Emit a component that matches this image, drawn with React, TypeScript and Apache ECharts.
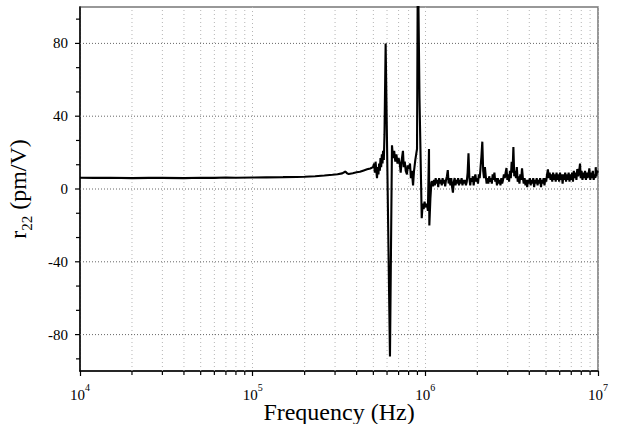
import React, { useEffect, useRef } from "react";
import * as echarts from "echarts";

// ---- data (frequency in Hz, r22 in pm/V) ----
const X_MIN = 1e4;
const X_MAX = 1e7;
const Y_MIN = -100;
const Y_MAX = 100;
const Y_STEP = 20;

const Y_TICKS = [-80, -40, 0, 40, 80];
const Y_MINOR = [-93.33, -66.67, -53.33, -26.67, -13.33, 13.33, 26.67, 53.33, 66.67, 93.33];
const X_MINOR = [
  2e4, 3e4, 4e4, 5e4, 6e4, 7e4, 8e4, 9e4,
  2e5, 3e5, 4e5, 5e5, 6e5, 7e5, 8e5, 9e5,
  2e6, 3e6, 4e6, 5e6, 6e6, 7e6, 8e6, 9e6,
];

const R22_LOW: [number, number][] = [
  [1e4, 6.2], [1.2e4, 6.1], [1.5e4, 6.2], [2e4, 6.0], [2.5e4, 6.1], [3e4, 6.1],
  [4e4, 6.0], [5e4, 6.2], [6e4, 6.1], [7e4, 6.3], [8e4, 6.2], [1e5, 6.3],
  [1.2e5, 6.4], [1.5e5, 6.5], [1.8e5, 6.6], [2.0e5, 6.7], [2.3e5, 7.0],
  [2.6e5, 7.4], [2.9e5, 7.8], [3.1e5, 8.1], [3.3e5, 8.6], [3.45e5, 9.6],
  [3.5e5, 8.8], [3.6e5, 8.2], [3.8e5, 8.7], [4.0e5, 9.2], [4.18e5, 9.5],
  [4.4e5, 10.2], [4.6e5, 10.8], [4.8e5, 11.3],
];

const R22_RES: [number, number][] = [
  [4.98e5, 12], [5.05e5, 14], [5.1e5, 9], [5.15e5, 15], [5.2e5, 10], [5.25e5, 6],
  [5.3e5, 12], [5.35e5, 8], [5.4e5, 14], [5.45e5, 10], [5.5e5, 17], [5.55e5, 12],
  [5.6e5, 19], [5.65e5, 14], [5.69e5, 21], [5.75e5, 16], [5.8e5, 30], [5.89e5, 80],
  [6.24e5, -92], [6.41e5, 24], [6.5e5, 17], [6.6e5, 21], [6.7e5, 15], [6.8e5, 19],
  [6.9e5, 14], [7.0e5, 17], [7.13e5, 13], [7.2e5, 9], [7.3e5, 16], [7.42e5, 21],
  [7.5e5, 12], [7.6e5, 15], [7.7e5, 10], [7.83e5, 8], [7.9e5, 13], [8.0e5, 11],
  [8.15e5, 14], [8.25e5, 6], [8.35e5, 10], [8.49e5, 2], [8.6e5, 10], [8.75e5, 16],
  [8.95e5, 22], [9.05e5, 130], [9.25e5, 50], [9.53e5, -16], [9.65e5, -8],
  [9.78e5, -11], [9.9e5, -7], [1.0e6, -10], [1.02e6, -8], [1.035e6, -12],
  [1.05e6, 22], [1.055e6, -20], [1.07e6, -5], [1.085e6, 4],
];

const R22_HIGH: [number, number][] = [
  [1.096e6, 4], [1.109e6, 1.5], [1.122e6, 5], [1.135e6, 2], [1.148e6, 6], [1.161e6, 3],
  [1.175e6, 5], [1.188e6, 1], [1.202e6, 6], [1.216e6, 3], [1.23e6, 5], [1.245e6, 2],
  [1.259e6, 6], [1.273e6, 3], [1.288e6, 5], [1.303e6, 1.5], [1.318e6, 5], [1.334e6, 7],
  [1.349e6, 10.4], [1.364e6, 3], [1.38e6, 6], [1.396e6, 2], [1.413e6, 6], [1.429e6, 1],
  [1.445e6, -2], [1.462e6, 4], [1.479e6, 6], [1.496e6, 2], [1.514e6, 5], [1.531e6, 3],
  [1.549e6, 6], [1.567e6, 2], [1.585e6, 5], [1.603e6, 3], [1.622e6, 6], [1.641e6, 2],
  [1.66e6, 5], [1.679e6, 3], [1.698e6, 5], [1.718e6, 2], [1.738e6, 4], [1.758e6, 9],
  [1.778e6, 19.6], [1.799e6, 6], [1.82e6, 2], [1.841e6, 6], [1.862e6, 4], [1.884e6, 7],
  [1.905e6, 2], [1.928e6, 6], [1.95e6, 8], [1.972e6, 4], [1.995e6, 6], [2.018e6, 3],
  [2.042e6, 8], [2.065e6, 6], [2.089e6, 12], [2.113e6, 18], [2.138e6, 26], [2.163e6, 10],
  [2.188e6, 6], [2.213e6, 12], [2.239e6, 7], [2.265e6, 3], [2.291e6, 6], [2.317e6, 3],
  [2.344e6, 7], [2.371e6, 4], [2.399e6, 6], [2.427e6, 3], [2.455e6, 8], [2.483e6, 5],
  [2.512e6, 9], [2.541e6, 4], [2.57e6, 6], [2.6e6, 2], [2.63e6, 6], [2.661e6, 3],
  [2.692e6, 5], [2.723e6, 2], [2.754e6, 6], [2.786e6, 3], [2.818e6, 5], [2.851e6, 8],
  [2.884e6, 6], [2.917e6, 9], [2.951e6, 11.5], [2.985e6, 5], [3.02e6, 8], [3.055e6, 4],
  [3.09e6, 10], [3.126e6, 6], [3.162e6, 15], [3.199e6, 9], [3.236e6, 23], [3.273e6, 7],
  [3.311e6, 10], [3.35e6, 6], [3.388e6, 12], [3.428e6, 4], [3.467e6, 7], [3.508e6, 3],
  [3.548e6, 8], [3.589e6, 5], [3.631e6, 11.3], [3.673e6, 6], [3.715e6, 3], [3.758e6, 6],
  [3.802e6, 2], [3.846e6, 5], [3.89e6, 1], [3.936e6, 5], [3.981e6, 3], [4.027e6, 6],
  [4.074e6, 2], [4.121e6, 5], [4.169e6, 3], [4.217e6, 6], [4.266e6, 1], [4.315e6, 5],
  [4.365e6, 3], [4.416e6, 6], [4.467e6, 2], [4.519e6, 5], [4.571e6, 3], [4.624e6, 6],
  [4.677e6, 1], [4.732e6, 5], [4.786e6, 3], [4.842e6, 6], [4.898e6, 2], [4.955e6, 6],
  [5.012e6, 4], [5.07e6, 8], [5.129e6, 10.8], [5.188e6, 6], [5.248e6, 9], [5.309e6, 5],
  [5.37e6, 8], [5.433e6, 4], [5.495e6, 9], [5.559e6, 5], [5.623e6, 8], [5.689e6, 4],
  [5.754e6, 9], [5.821e6, 5], [5.888e6, 8], [5.957e6, 4], [6.026e6, 9], [6.096e6, 5],
  [6.166e6, 8], [6.237e6, 3], [6.31e6, 8], [6.383e6, 5], [6.457e6, 9], [6.531e6, 4],
  [6.607e6, 8], [6.683e6, 5], [6.761e6, 9], [6.839e6, 4], [6.918e6, 8], [6.998e6, 5],
  [7.079e6, 9], [7.161e6, 4], [7.244e6, 10], [7.328e6, 6], [7.413e6, 9], [7.499e6, 5],
  [7.586e6, 11], [7.674e6, 7], [7.762e6, 9], [7.87e6, 14], [7.943e6, 6], [8.035e6, 10],
  [8.128e6, 5], [8.222e6, 9], [8.318e6, 6], [8.414e6, 10], [8.511e6, 5], [8.61e6, 9],
  [8.71e6, 6], [8.81e6, 8], [8.91e6, 11.3], [9.02e6, 5], [9.12e6, 9], [9.226e6, 6],
  [9.333e6, 10], [9.441e6, 5], [9.55e6, 8], [9.66e6, 6], [9.7e6, 12], [9.772e6, 7],
  [9.886e6, 10], [1e7, 9],
];

const SERIF = "'Liberation Serif', 'Times New Roman', serif";

export default function App() {
  const ref = useRef<HTMLDivElement>(null);

  useEffect(() => {
    if (!ref.current) return;
    const chart = echarts.init(ref.current, undefined, { renderer: "svg" });
    const data = [...R22_LOW, ...R22_RES, ...R22_HIGH];

    chart.setOption({
      animation: false,
      backgroundColor: "#fff",
      grid: {
        left: 80,
        right: 24,
        top: 7,
        bottom: 53,
        outerBoundsMode: "none",
        containLabel: false,
        show: true,
        borderColor: "#777",
        borderWidth: 1.5,
        backgroundColor: "transparent",
      },
      xAxis: {
        type: "log",
        logBase: 10,
        min: X_MIN,
        max: X_MAX,
        name: "Frequency (Hz)",
        nameLocation: "middle",
        nameGap: 29,
        nameMoveOverlap: false,
        nameTextStyle: { fontFamily: SERIF, fontSize: 24, color: "#000", lineHeight: 24 },
        axisLine: { show: true, onZero: false, lineStyle: { color: "#000", width: 1.5 } },
        axisTick: { show: true, inside: false, length: 5, lineStyle: { color: "#000", width: 1.2 } },
        minorTick: { show: false },
        splitLine: { show: true, lineStyle: { color: "#b5b5b5", type: [1, 3], width: 1 } },
        axisLabel: {
          margin: 11,
          formatter: (v: number) => `{b|10}{s|${Math.round(Math.log10(v))}}`,
          rich: {
            b: { fontFamily: SERIF, fontSize: 15, color: "#000", lineHeight: 20, verticalAlign: "bottom" },
            s: { fontFamily: SERIF, fontSize: 10, color: "#000", lineHeight: 10, verticalAlign: "top" },
          },
        },
      },
      yAxis: {
        type: "value",
        min: Y_MIN,
        max: Y_MAX,
        interval: Y_STEP,
        name: "{n|r}{s|22}{n| (pm/V)}",
        nameLocation: "middle",
        nameGap: 46,
        nameMoveOverlap: false,
        nameTextStyle: {
          rich: {
            n: { fontFamily: SERIF, fontSize: 24, color: "#000", lineHeight: 28, verticalAlign: "top" },
            s: { fontFamily: SERIF, fontSize: 15, color: "#000", lineHeight: 14, verticalAlign: "bottom" },
          },
        },
        axisLine: { show: true, onZero: false, lineStyle: { color: "#000", width: 1.5 } },
        axisTick: { show: false },
        splitLine: { show: false },
        axisLabel: {
          margin: 12,
          fontFamily: SERIF,
          fontSize: 15,
          color: "#000",
          formatter: (v: number) => (Y_TICKS.indexOf(v) >= 0 ? String(v) : ""),
        },
      },
      series: [
        {
          type: "custom",
          silent: true,
          clip: false,
          z: 1,
          data: X_MINOR.map((f) => [f, 0]),
          encode: { x: 0, y: 1 },
          renderItem: (_p: any, api: any) => {
            const v = api.value(0);
            const b = api.coord([v, Y_MIN]);
            const t = api.coord([v, Y_MAX]);
            return {
              type: "group",
              children: [
                {
                  type: "line",
                  shape: { x1: b[0], y1: b[1], x2: t[0], y2: t[1] },
                  style: { stroke: "#b5b5b5", lineWidth: 1, lineDash: [1, 3] },
                },
                {
                  type: "line",
                  shape: { x1: b[0], y1: b[1], x2: b[0], y2: b[1] + 4 },
                  style: { stroke: "#000", lineWidth: 1.2 },
                },
              ],
            };
          },
        },
        {
          type: "custom",
          silent: true,
          clip: false,
          z: 1,
          data: Y_TICKS.map((v) => [X_MIN, v]),
          encode: { x: 0, y: 1 },
          renderItem: (_p: any, api: any) => {
            const y = api.value(1);
            const a = api.coord([X_MIN, y]);
            const b = api.coord([X_MAX, y]);
            return {
              type: "group",
              children: [
                {
                  type: "line",
                  shape: { x1: a[0], y1: a[1], x2: b[0], y2: b[1] },
                  style: { stroke: "#666", lineWidth: 1, lineDash: [1, 2] },
                },
                {
                  type: "line",
                  shape: { x1: a[0] - 5, y1: a[1], x2: a[0], y2: a[1] },
                  style: { stroke: "#000", lineWidth: 1.2 },
                },
              ],
            };
          },
        },
        {
          type: "custom",
          silent: true,
          clip: false,
          z: 1,
          data: Y_MINOR.map((v) => [X_MIN, v]),
          encode: { x: 0, y: 1 },
          renderItem: (_p: any, api: any) => {
            const p = api.coord([X_MIN, api.value(1)]);
            return {
              type: "line",
              shape: { x1: p[0] - 4, y1: p[1], x2: p[0], y2: p[1] },
              style: { stroke: "#000", lineWidth: 1.2 },
            };
          },
        },
        {
          type: "line",
          data,
          showSymbol: false,
          symbol: "none",
          clip: true,
          z: 5,
          lineStyle: { color: "#000", width: 2.1 },
        },
      ],
    });

    return () => chart.dispose();
  }, []);

  return (
    <div
      ref={ref}
      style={{ position: "absolute", left: 0, top: 0, width: 622, height: 424, overflow: "hidden" }}
    />
  );
}
